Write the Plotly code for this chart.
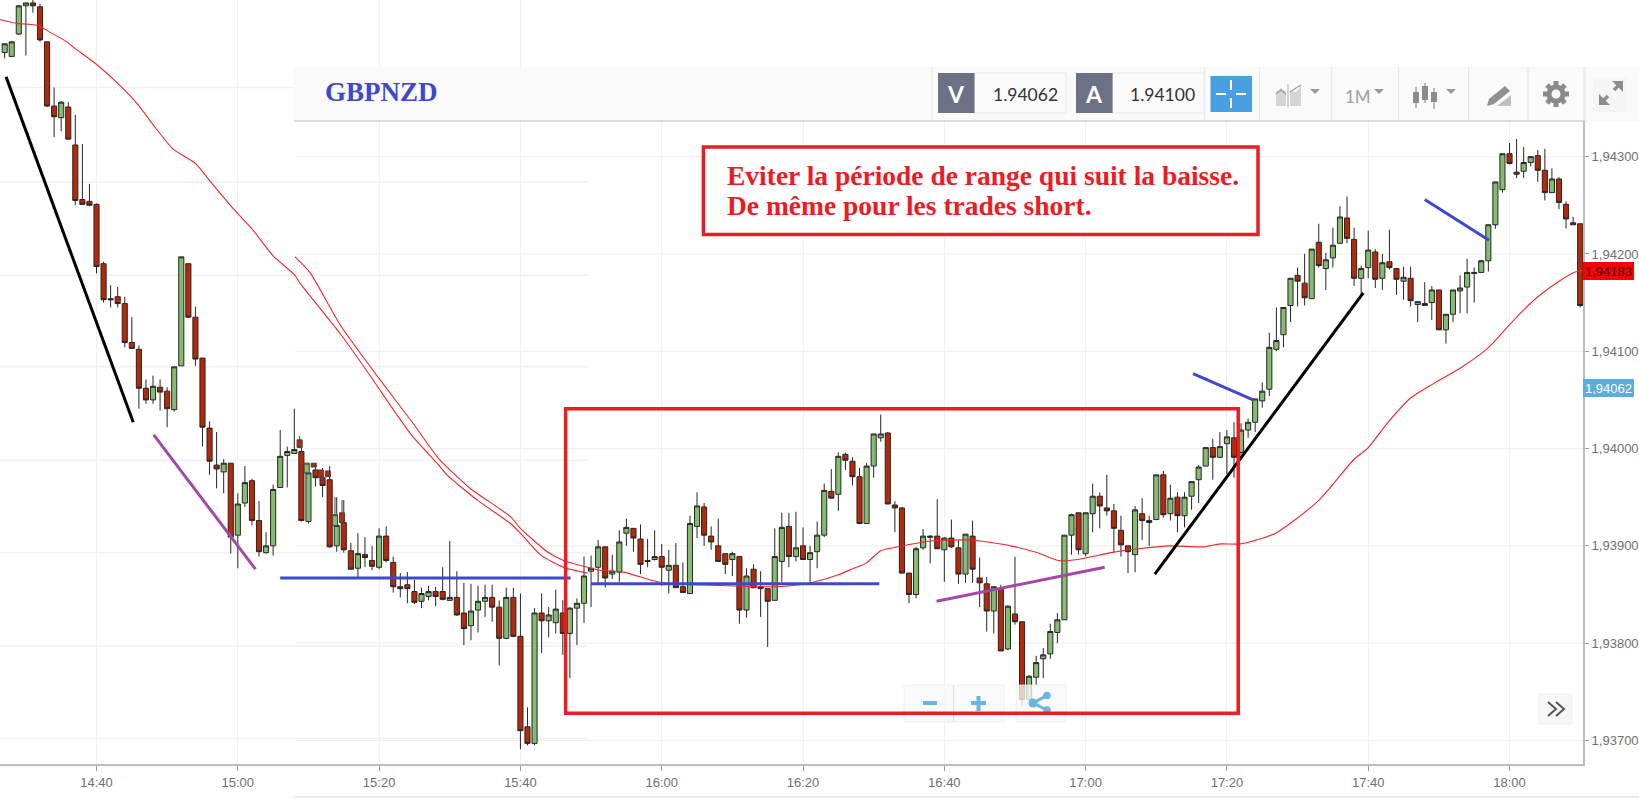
import plotly.graph_objects as go

# ---------- data (price = BASE + value / 100000) ----------
BASE = 1.93
first_minute = 867  # minutes from 00:00 offset, 880 = 14:40
opens = [
 1407,1403,1426,1455,1458,1454,1418,1352,1340,1351,
 1312,1256,1254,1251,1190,1154,1156,1149,1109,1102,
 1062,1050,1063,1059,1040,1085,1190,1135,1093,1021,
 983,976,985,911,944,967,926,893,900,960,
 993,995,997,925,978,970,968,900,924,895,
 877,891,885,878,910,883,858,860,853,843,
 848,853,853,844,847,831,818,834,843,847,
 837,805,847,807,714,697,831,823,821,831,
 810,836,841,874,878,899,871,873,913,918,
 907,885,886,889,875,880,858,851,920,940,
 910,900,892,886,889,834,876,858,856,844,
 884,920,889,900,886,894,911,956,953,994,
 987,971,923,982,1011,1016,942,939,872,850,
 898,910,910,896,908,898,871,910,867,861,
 833,856,794,830,822,742,765,784,789,811,
 824,911,934,892,933,951,939,936,916,900,
 891,933,924,927,973,933,950,931,951,968,
 982,1001,991,1005,1011,996,1019,1027,1049,1061,
 1102,1117,1147,1178,1170,1154,1212,1185,1196,1211,
 1237,1215,1175,1186,1202,1175,1192,1185,1172,1175,
 1148,1149,1150,1163,1122,1138,1162,1166,1181,1181,
 1193,1230,1266,1303,1284,1285,1294,1301,1286,1263,
 1277,1251,1232,1231]
highs = [
 1416,1419,1456,1458,1461,1457,1418,1371,1357,1356,
 1343,1313,1272,1252,1192,1168,1166,1156,1135,1106,
 1071,1075,1071,1063,1084,1197,1190,1146,1093,1028,
 1017,989,985,954,982,969,946,914,963,1019,
 1002,1041,1001,985,985,980,982,950,947,903,
 913,909,900,918,920,889,872,873,865,857,
 859,858,878,905,874,862,861,859,860,860,
 844,857,857,851,734,836,851,837,855,844,
 837,846,889,890,906,899,891,916,928,918,
 922,907,916,902,896,903,883,931,955,944,
 920,928,892,894,889,877,881,874,856,918,
 934,934,935,919,900,925,964,979,996,996,
 991,980,985,1015,1035,1017,946,940,872,899,
 917,911,948,909,927,906,912,926,888,868,
 858,860,839,889,822,767,787,795,820,831,
 911,933,934,934,964,955,973,943,931,900,
 941,949,931,973,977,963,955,955,966,983,
 1001,1010,1017,1019,1027,1026,1031,1051,1068,1119,
 1145,1145,1175,1186,1200,1205,1231,1201,1227,1249,
 1259,1227,1188,1224,1205,1200,1225,1185,1187,1187,
 1151,1171,1167,1163,1138,1163,1178,1195,1186,1194,
 1230,1274,1303,1314,1318,1310,1300,1307,1308,1288,
 1279,1254,1238,1231]
lows = [
 1401,1403,1425,1404,1448,1418,1351,1320,1326,1318,
 1250,1251,1249,1180,1150,1145,1145,1104,1102,1041,
 1046,1046,1039,1022,1038,1085,1134,1085,1002,973,
 959,954,892,877,940,921,889,892,890,960,
 960,995,925,923,961,950,898,894,893,876,
 868,878,875,876,883,852,847,841,840,836,
 844,838,844,844,828,798,803,811,827,822,
 777,804,806,691,695,695,790,806,810,788,
 764,798,821,837,861,857,866,863,900,894,
 871,878,885,859,851,857,852,851,908,900,
 896,884,871,869,820,826,857,827,796,844,
 863,878,884,886,862,877,909,949,936,978,
 962,923,923,970,1007,943,914,872,841,846,
 896,882,897,863,898,861,862,862,837,812,
 810,792,793,819,736,740,757,764,784,800,
 824,891,891,889,914,918,931,893,889,872,
 873,906,900,927,929,926,914,919,937,944,
 982,968,990,974,970,988,1011,1017,1042,1054,
 1100,1104,1130,1146,1147,1154,1186,1163,1186,1211,
 1211,1167,1158,1175,1165,1163,1184,1158,1153,1146,
 1130,1147,1132,1122,1108,1130,1139,1139,1150,1181,
 1182,1226,1263,1292,1278,1278,1290,1274,1255,1263,
 1246,1226,1230,1145]
closes = [
 1416,1418,1455,1458,1455,1420,1352,1341,1356,1318,
 1255,1251,1250,1187,1153,1153,1149,1109,1103,1062,
 1050,1064,1058,1041,1084,1197,1135,1092,1022,987,
 979,985,909,943,965,926,894,900,958,992,
 997,999,926,975,970,962,899,921,896,876,
 892,888,879,910,885,858,856,856,842,851,
 853,848,845,847,829,815,833,843,847,837,
 805,847,807,710,697,831,823,829,835,810,
 836,841,869,877,899,867,874,904,919,908,
 881,884,889,878,880,857,852,923,941,911,
 904,884,881,892,834,869,857,856,843,889,
 919,889,898,886,893,911,957,949,992,988,
 971,923,982,1015,1015,943,939,872,850,897,
 910,909,897,908,899,871,912,876,862,833,
 858,792,838,822,742,766,780,788,812,824,
 911,932,896,934,951,941,936,918,901,894,
 937,926,926,973,932,949,931,950,966,981,
 1001,991,1002,1012,991,1019,1027,1051,1059,1104,
 1111,1145,1175,1172,1155,1205,1188,1194,1209,1238,
 1216,1175,1185,1204,1174,1191,1186,1174,1176,1152,
 1151,1147,1163,1122,1138,1163,1165,1181,1180,1193,
 1230,1274,1303,1293,1282,1294,1300,1286,1263,1277,
 1253,1236,1230,1147]

# candles of the screenshot lying underneath, visible where the two pastes overlap
ghost_m = [908.75,909.75,910.75,911.75,912.75,913.75,914.75]
ghost_o = [1009,975,985,978,977,921,934]
ghost_h = [1013,985,985,978,977,950,947]
ghost_l = [1001,975,981,970,971,921,924]
ghost_c = [1001,985,981,970,971,932,924]

# moving average
ma_left_m = [866.3,868.7,871.6,873.4,875.8,877.0,879.8,882.9,885.7,888.0,890.8,894.0,896.5,899.3,902.2,905.0,
             908.1,908.8,914.5,919.2,922.0,924.8,928.2,929.6,933.9,938.6,940.0,942.8,946.1,949.5]
ma_left_v = [1441,1437,1435,1428,1418,1411,1396,1376,1355,1333,1308,1293,1271,1247,1224,1198,
             1178,1170,1118,1070,1040,1012,985,973,947,923,913,891,878,872]
ma_main_m = [908.1,910.2,914.5,920.2,924.8,928.4,932.9,938.6,940.0,943.8,946.1,949.5,951.3,954.6,958.4,960.2,
             974.0,978.2,981.1,984.9,987.2,988.9,991.0,993.4,998.1,1003.7,1009.4,1013.2,1016.1,1018.9,1023.6,
             1027.4,1032.0,1036.7,1039.1,1042.0,1046.9,1052.9,1058.0,1060.0,1062.8,1066.0,1069.3,1073.1,1076.9,
             1080.6,1084.0,1086.8,1089.1,1090.4]
ma_main_v = [1197,1181,1127,1070,1026,990,959,930,918,894,885,878,875,873,865,862,
             858,859,862,870,877,882,895,899,905,906,900,893,885,886,893,
             897,900,899,902,902,913,946,989,1001,1027,1052,1067,1083,1103,
             1132,1156,1171,1181,1183]

# hand-drawn trend lines (minute, value), None separates segments
black_m = [867.2,885.2,None,1029.8,1059.3]
black_v = [1382,1027,None,871,1160]
purple_m = [888.1,902.5,None,998.9,1022.7]
purple_v = [1014,876,None,843,878]
blue_m = [906.0,947.1,None,950.0,990.8,None,1035.2,1043.7,None,1068.0,1077.1]
blue_v = [867,867,None,861,861,None,1077,1050,None,1256,1214]

range_box_m = [946.4,1041.6]
range_box_v = [728,1041]
note_box_m = [965.9,1044.4]
note_box_v = [1220,1310]

time_ticks = [880,900,920,940,960,980,1000,1020,1040,1060,1080]
time_labels = ["14:40","15:00","15:20","15:40","16:00","16:20","16:40","17:00","17:20","17:40","18:00"]
price_ticks = [1.937,1.938,1.939,1.940,1.941,1.942,1.943]
price_labels = ["1,93700","1,93800","1,93900","1,94000","1,94100","1,94200","1,94300"]
left_grid_v = [1371,1274,1178,1084,988,893,797,702]   # grid of the pasted left screenshot

pair = "GBPNZD"
bid_text, ask_text = "1.94062", "1.94100"
bid_tag, last_tag = "1,94062", "1,94183"
note_lines = ["Eviter la période de range qui suit la baisse.", "De même pour les trades short."]

# ---------- layout helpers ----------
W, H = 1639, 799
PW, PH = 1583, 764       # plot area in pixels
def price(v):
    return None if v is None else BASE + v / 1e5
def fx(x):
    return x / PW
def fy(y):
    return 1 - y / PH
minutes = [first_minute + i for i in range(len(opens))]
X_RANGE = [866.34, 1090.40]
Y_RANGE = [price(675.8), price(1461.0)]

fig = go.Figure()
fig.add_trace(go.Candlestick(
    x=minutes, open=[price(v) for v in opens], high=[price(v) for v in highs],
    low=[price(v) for v in lows], close=[price(v) for v in closes],
    increasing=dict(line=dict(color="#262626", width=1), fillcolor="#86bc71"),
    decreasing=dict(line=dict(color="#262626", width=1), fillcolor="#b5290a"),
    whiskerwidth=0, hoverinfo="skip", showlegend=False))
fig.add_trace(go.Candlestick(
    x=ghost_m, open=[price(v) for v in ghost_o], high=[price(v) for v in ghost_h],
    low=[price(v) for v in ghost_l], close=[price(v) for v in ghost_c], xaxis="x2",
    increasing=dict(line=dict(color="#444444", width=1), fillcolor="#86bc71"),
    decreasing=dict(line=dict(color="#444444", width=1), fillcolor="#b5290a"),
    whiskerwidth=0, hoverinfo="skip", showlegend=False))
fig.add_trace(go.Scatter(x=ma_left_m, y=[price(v) for v in ma_left_v], mode="lines",
                         line=dict(color="#f4262a", width=1.1, shape="spline", smoothing=0.6), hoverinfo="skip", showlegend=False))
fig.add_trace(go.Scatter(x=ma_main_m, y=[price(v) for v in ma_main_v], mode="lines",
                         line=dict(color="#f4262a", width=1.1, shape="spline", smoothing=0.6), hoverinfo="skip", showlegend=False))
for mm, vv, col, wd in [(black_m, black_v, "#000000", 3), (purple_m, purple_v, "#a349a4", 3), (blue_m, blue_v, "#3f48cc", 3)]:
    fig.add_trace(go.Scatter(x=mm, y=[price(v) for v in vv], mode="lines", connectgaps=False,
                             line=dict(color=col, width=wd), hoverinfo="skip", showlegend=False))

shapes, notes = [], []
GRID = "#f1f1f1"
def rect(x0, y0, x1, y1, fill, line=None, lw=1, layer="above"):
    shapes.append(dict(type="rect", xref="paper", yref="paper", x0=fx(x0), x1=fx(x1), y0=fy(y1), y1=fy(y0),
                       fillcolor=fill, line=dict(color=line or "rgba(0,0,0,0)", width=lw if line else 0), layer=layer))
def seg(x0, y0, x1, y1, col, lw=1, layer="above"):
    shapes.append(dict(type="line", xref="paper", yref="paper", x0=fx(x0), x1=fx(x1), y0=fy(y0), y1=fy(y1),
                       line=dict(color=col, width=lw), layer=layer))
def poly(points, fill):
    d = "M " + " L ".join(f"{fx(a):.5f} {fy(b):.5f}" for a, b in points) + " Z"
    shapes.append(dict(type="path", xref="paper", yref="paper", path=d, fillcolor=fill, line=dict(width=0), layer="above"))
def stroke(points, col, lw):
    d = "M " + " L ".join(f"{fx(a):.5f} {fy(b):.5f}" for a, b in points)
    shapes.append(dict(type="path", xref="paper", yref="paper", path=d, line=dict(color=col, width=lw), layer="above"))
def dot(x, y, r, col):
    shapes.append(dict(type="circle", xref="paper", yref="paper", x0=fx(x-r), x1=fx(x+r), y0=fy(y+r), y1=fy(y-r),
                       fillcolor=col, line=dict(width=0), layer="above"))
def text(x, y, s, size, col, family="Liberation Sans", bold=False, align="center"):
    notes.append(dict(xref="paper", yref="paper", x=fx(x), y=fy(y), text=f"<b>{s}</b>" if bold else s, showarrow=False,
                      xanchor=align, yanchor="middle", align=align, font=dict(size=size, color=col, family=family)))

# horizontal grids (two pasted screenshots with slightly different scales)
for v in left_grid_v:
    shapes.append(dict(type="line", xref="x", yref="y", x0=X_RANGE[0], x1=949.5, y0=price(v), y1=price(v),
                       line=dict(color=GRID, width=1.5), layer="below"))
for p in price_ticks:
    shapes.append(dict(type="line", xref="x", yref="y", x0=908.1, x1=X_RANGE[1], y0=p, y1=p,
                       line=dict(color=GRID, width=1.3), layer="below"))

# top chrome
rect(587, 0, W, 67, "#ffffff")
rect(294, 67, W, 121, "rgba(249,249,249,0.88)")
seg(294, 121, 1586, 121, "#bdbdbd", 1.2)
for sx in [932, 1204.7, 1259.6, 1331.7, 1398.6, 1468.6, 1528, 1585]:
    seg(sx, 67, sx, 121, "#e6e6e6", 1)
# price boxes
rect(974, 73, 1066, 113, "#fbfbfb", "#e9e9e9")
rect(1112, 73, 1204, 113, "#fbfbfb", "#e9e9e9")
rect(938, 73, 974.5, 113, "#6c7186")
rect(1076, 73, 1112.6, 113, "#6c7186")
text(956, 94, "V", 23, "#ffffff", "Lato", True)
text(1094, 94, "A", 23, "#ffffff", "Lato", True)
text(1025, 94, bid_text, 17.5, "#333333", "Lato")
text(1162, 94, ask_text, 17.5, "#333333", "Lato")
# crosshair button
rect(1210.5, 76, 1252, 112, "#4a9fdf")
for a in [(1231, 80, 1231, 90), (1231, 98, 1231, 108), (1216, 94, 1226, 94), (1236, 94, 1246, 94)]:
    seg(*a, "#ffffff", 2)
# chart-type icon
poly([(1276, 106), (1276, 92), (1281, 88), (1286, 92), (1286, 106)], "#d5d5d5")
poly([(1290, 106), (1290, 91), (1296, 92), (1301, 86), (1301, 106)], "#d5d5d5")
stroke([(1276, 94), (1281, 90), (1286, 94)], "#9c9c9c", 1.2)
stroke([(1290, 92), (1296, 88), (1301, 85)], "#9c9c9c", 1.2)
seg(1288, 84, 1288, 107, "#aaaaaa", 1)
for cx in [1315, 1379, 1451]:
    poly([(cx-5, 89), (cx+5, 89), (cx, 94)], "#9a9a9a")
text(1358, 96, "1M", 17, "#a0a0a0", "Lato")
# candles icon
for cx, a, b, c, d in [(1416, 87, 92, 103, 108), (1425, 83, 86, 100, 103), (1434, 88, 92, 102, 109)]:
    seg(cx, a, cx, d, "#8c8c8c", 1.2)
    rect(cx-3, b, cx+3, c, "#8c8c8c")
# pencil icon
poly([(1487, 106), (1489, 99), (1505, 86), (1510, 91), (1494, 104)], "#909090")
poly([(1497, 106), (1511, 95), (1511, 106)], "#c0c0c0")
# gear icon
for dx, dy in [(0, 13), (13, 0), (9, 9), (9, -9)]:
    seg(1556 - dx, 94 - dy, 1556 + dx, 94 + dy, "#8a8a8a", 5)
dot(1556, 94, 9.5, "#8a8a8a")
dot(1556, 94, 4.5, "#f9f9f9")
# expand icon
rect(1593, 78, 1627, 112, "#f5f5f5")
stroke([(1601, 103), (1608, 96)], "#8c8c8c", 3.5)
stroke([(1614, 90), (1621, 83)], "#8c8c8c", 3.5)
poly([(1612, 81), (1623, 81), (1623, 92)], "#8c8c8c")
poly([(1599, 94), (1599, 105), (1610, 105)], "#8c8c8c")
text(381, 92, pair, 27, "#3f48cc", "Liberation Serif", True)

# bottom line and pane buttons
seg(294, 797, W, 797, "#e6e6e6", 1.5)
rect(904, 685, 1004, 722, "rgba(248,248,248,0.78)", "rgba(235,235,235,0.7)")
rect(1016, 685, 1066, 722, "rgba(248,248,248,0.78)", "rgba(235,235,235,0.7)")
seg(953.6, 685, 953.6, 722, "#dddddd", 1)
seg(923, 703, 937, 703, "#6cb4e4", 4)
seg(971, 703, 986, 703, "#6cb4e4", 4)
seg(978.5, 696, 978.5, 711, "#6cb4e4", 4)
stroke([(1047, 695.5), (1033, 703), (1047, 710)], "#6cb4e4", 3)
dot(1033, 703, 4.5, "#6cb4e4")
dot(1047, 695.5, 3.8, "#6cb4e4")
dot(1047, 710, 3.8, "#6cb4e4")
rect(1539, 694, 1572, 724, "#f7f7f7", "#efefef")
stroke([(1548, 702), (1556, 709), (1548, 716)], "#555555", 2)
stroke([(1556, 702), (1564, 709), (1556, 716)], "#555555", 2)

# drawn boxes
shapes.append(dict(type="rect", xref="x", yref="y", x0=note_box_m[0], x1=note_box_m[1],
                   y0=price(note_box_v[0]), y1=price(note_box_v[1]), fillcolor="#ffffff",
                   line=dict(color="#ed1c24", width=3.5), layer="above"))
shapes.append(dict(type="rect", xref="x", yref="y", x0=range_box_m[0], x1=range_box_m[1],
                   y0=price(range_box_v[0]), y1=price(range_box_v[1]), fillcolor="rgba(0,0,0,0)",
                   line=dict(color="#ed1c24", width=3.5), layer="above"))
text(725, 175.5, note_lines[0], 27.5, "#ed1c24", "Liberation Serif", True, "left")
text(725, 206, note_lines[1], 27.5, "#ed1c24", "Liberation Serif", True, "left")

# price tags
rect(1583, 379, 1634, 397, "#59aedb")
text(1608.5, 388, bid_tag, 13, "#ffffff")
rect(1583, 262, 1634, 280, "#fb0000")
text(1608.5, 271, last_tag, 13, "#2a0000")

fig.update_layout(
    width=W, height=H, autosize=False, paper_bgcolor="#ffffff", plot_bgcolor="#ffffff",
    boxgap=0.15, boxgroupgap=0.15,
    margin=dict(l=0, r=W - PW, t=0, b=H - PH), showlegend=False, shapes=shapes, annotations=notes,
    xaxis=dict(range=X_RANGE, rangeslider=dict(visible=False), tickmode="array", tickvals=time_ticks, ticktext=time_labels,
               showgrid=True, gridcolor=GRID, gridwidth=1.3, zeroline=False, showline=True, linecolor="#bdbdbd", linewidth=2,
               ticks="outside", ticklen=5, tickcolor="#999999", tickfont=dict(family="Liberation Sans", size=13, color="#6f6f6f"),
               ticklabelstandoff=0),
    xaxis2=dict(range=X_RANGE, overlaying="x", visible=False, rangeslider=dict(visible=False)),
    yaxis=dict(range=Y_RANGE, side="right", tickmode="array", tickvals=price_ticks, ticktext=price_labels,
               showgrid=False, zeroline=False, showline=True, linecolor="#bdbdbd", linewidth=2,
               ticks="outside", ticklen=4, tickcolor="#999999", tickfont=dict(family="Liberation Sans", size=13, color="#6f6f6f")),
)
fig.write_html("out.html", post_script="document.body.style.margin='0';document.documentElement.style.overflow='hidden';",
               config=dict(displayModeBar=False))
